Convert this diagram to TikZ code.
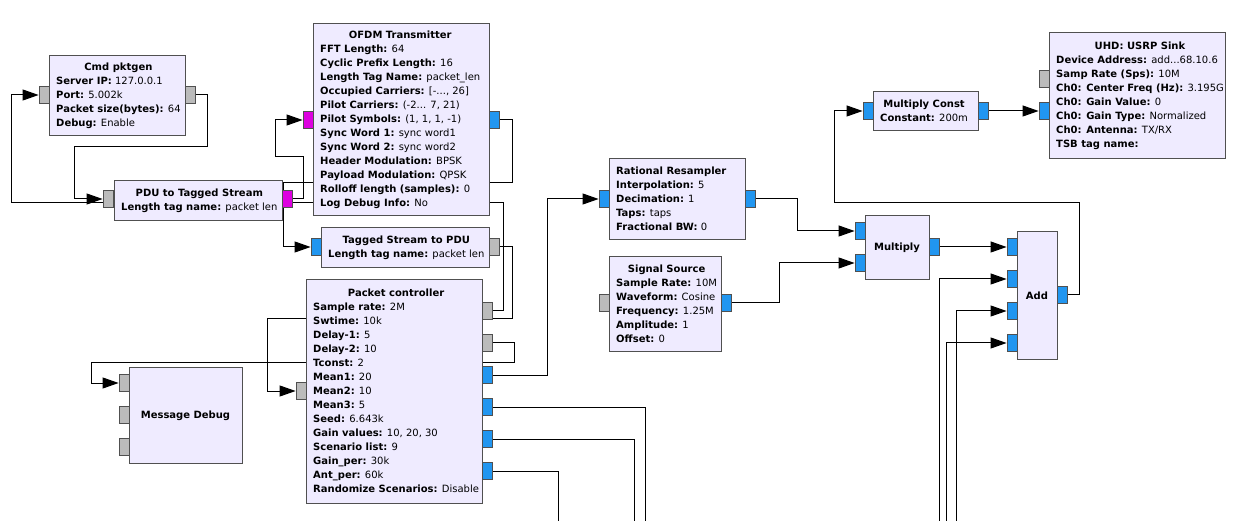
\documentclass[tikz,border=0pt]{standalone}
\usepackage{fontspec}
\setmainfont{DejaVu Sans}
\usetikzlibrary{arrows.meta}
\definecolor{blkfill}{HTML}{EFEBFF}
\definecolor{blkdraw}{HTML}{505050}
\definecolor{pgray}{HTML}{BBBBBB}
\definecolor{pblue}{HTML}{2196F0}
\definecolor{pmag}{HTML}{DD00E0}
\newcommand\bkt[1]{\multicolumn{1}{@{}c@{}}{\textbf{#1}}}
\newcommand\bkp[2]{\textbf{#1:} #2}
\pgfdeclarelayer{bg}
\pgfsetlayers{bg,main}
\begin{document}
\begin{tikzpicture}[x=1pt,y=-1pt,
  blk/.style={draw=blkdraw, fill=blkfill, line width=1pt, inner sep=0pt, anchor=north west},
  txt/.style={inner sep=0pt, font=\fontsize{10}{14}\selectfont, yshift=-1pt},
  port/.style={draw=blkdraw, line width=0.8pt, minimum width=10pt, minimum height=17pt, inner sep=0pt},
  gp/.style={port, fill=pgray}, bp/.style={port, fill=pblue}, mp/.style={port, fill=pmag},
  conn/.style={line width=1pt, black},
  arr/.style={conn, -{Triangle[length=16pt,width=11pt]}}]
\useasboundingbox (0,0) rectangle (1248,521);

% Cmd pktgen
\node[blk, minimum width=136pt, minimum height=80pt] (pk) at (49,55) {};
\node[txt, anchor=west] (pk-t) at (56,95) {\begin{tabular}{@{}l@{}}\bkt{Cmd pktgen}\\ \bkp{Server IP}{127.0.0.1}\\ \bkp{Port}{5.002k}\\ \bkp{Packet size(bytes)}{64}\\ \bkp{Debug}{Enable}\end{tabular}};
\node[gp] (pk-in) at (44,95) {};
\node[gp] (pk-out) at (190,95) {};

% PDU to Tagged Stream
\node[blk, minimum width=168pt, minimum height=40pt] (pdu) at (114,180) {};
\node[txt, anchor=west] (pdu-t) at (121,200) {\begin{tabular}{@{}l@{}}\bkt{PDU to Tagged Stream}\\ \bkp{Length tag name}{packet len}\end{tabular}};
\node[gp] (pdu-in) at (108,199) {};
\node[mp] (pdu-out) at (287,199) {};

% OFDM Transmitter
\node[blk, minimum width=176pt, minimum height=192pt] (ofdm) at (313,23) {};
\node[txt, anchor=west] (ofdm-t) at (320,119) {\begin{tabular}{@{}l@{}}\bkt{OFDM Transmitter}\\ \bkp{FFT Length}{64}\\ \bkp{Cyclic Prefix Length}{16}\\ \bkp{Length Tag Name}{packet\_len}\\ \bkp{Occupied Carriers}{[-..., 26]}\\ \bkp{Pilot Carriers}{(-2... 7, 21)}\\ \bkp{Pilot Symbols}{(1, 1, 1, -1)}\\ \bkp{Sync Word 1}{sync word1}\\ \bkp{Sync Word 2}{sync word2}\\ \bkp{Header Modulation}{BPSK}\\ \bkp{Payload Modulation}{QPSK}\\ \bkp{Rolloff length (samples)}{0}\\ \bkp{Log Debug Info}{No}\end{tabular}};
\node[mp] (ofdm-in) at (308,120) {};
\node[bp] (ofdm-out) at (494,120) {};

% Tagged Stream to PDU
\node[blk, minimum width=168pt, minimum height=40pt] (ts) at (321,227) {};
\node[txt, anchor=west] (ts-t) at (328,247) {\begin{tabular}{@{}l@{}}\bkt{Tagged Stream to PDU}\\ \bkp{Length tag name}{packet len}\end{tabular}};
\node[bp] (ts-in) at (316,247) {};
\node[gp] (ts-out) at (494,247) {};

% Packet controller
\node[blk, minimum width=176pt, minimum height=224pt] (pc) at (306,279) {};
\node[txt, anchor=west] (pc-t) at (313,391) {\begin{tabular}{@{}l@{}}\bkt{Packet controller}\\ \bkp{Sample rate}{2M}\\ \bkp{Swtime}{10k}\\ \bkp{Delay-1}{5}\\ \bkp{Delay-2}{10}\\ \bkp{Tconst}{2}\\ \bkp{Mean1}{20}\\ \bkp{Mean2}{10}\\ \bkp{Mean3}{5}\\ \bkp{Seed}{6.643k}\\ \bkp{Gain values}{10, 20, 30}\\ \bkp{Scenario list}{9}\\ \bkp{Gain\_per}{30k}\\ \bkp{Ant\_per}{60k}\\ \bkp{Randomize Scenarios}{Disable}\end{tabular}};
\node[gp] (pc-in) at (301,391) {};
\node[gp] (pc-o1) at (487,311) {};
\node[gp] (pc-o2) at (487,343) {};
\node[bp] (pc-o3) at (487,375) {};
\node[bp] (pc-o4) at (487,407) {};
\node[bp] (pc-o5) at (487,439) {};
\node[bp] (pc-o6) at (487,471) {};

% Message Debug
\node[blk, minimum width=113pt, minimum height=96pt] (md) at (129,367) {};
\node[txt] (md-t) at (185.5,415) {\textbf{Message Debug}};
\node[gp] (md-i1) at (124,383) {};
\node[gp] (md-i2) at (124,415) {};
\node[gp] (md-i3) at (124,447) {};

% Rational Resampler
\node[blk, minimum width=136pt, minimum height=81pt] (rr) at (609,158) {};
\node[txt, anchor=west] (rr-t) at (616,198.5) {\begin{tabular}{@{}l@{}}\bkt{Rational Resampler}\\ \bkp{Interpolation}{5}\\ \bkp{Decimation}{1}\\ \bkp{Taps}{taps}\\ \bkp{Fractional BW}{0}\end{tabular}};
\node[bp] (rr-in) at (604,199) {};
\node[bp] (rr-out) at (750,199) {};

% Signal Source
\node[blk, minimum width=112pt, minimum height=95pt] (sig) at (609,256) {};
\node[txt, anchor=west] (sig-t) at (616,303.5) {\begin{tabular}{@{}l@{}}\bkt{Signal Source}\\ \bkp{Sample Rate}{10M}\\ \bkp{Waveform}{Cosine}\\ \bkp{Frequency}{1.25M}\\ \bkp{Amplitude}{1}\\ \bkp{Offset}{0}\end{tabular}};
\node[gp] (sig-in) at (604,303) {};
\node[bp] (sig-out) at (726,303) {};

% Multiply Const
\node[blk, minimum width=105pt, minimum height=39pt] (mc) at (873,91) {};
\node[txt, anchor=west] (mc-t) at (880,110.5) {\begin{tabular}{@{}l@{}}\bkt{Multiply Const}\\ \bkp{Constant}{200m}\end{tabular}};
\node[bp] (mc-in) at (868,111) {};
\node[bp] (mc-out) at (983,111) {};

% UHD: USRP Sink
\node[blk, minimum width=176pt, minimum height=126pt] (us) at (1049,32) {};
\node[txt, anchor=west] (us-t) at (1056,95) {\begin{tabular}{@{}l@{}}\bkt{UHD: USRP Sink}\\ \bkp{Device Address}{add...68.10.6}\\ \bkp{Samp Rate (Sps)}{10M}\\ \bkp{Ch0: Center Freq (Hz)}{3.195G}\\ \bkp{Ch0: Gain Value}{0}\\ \bkp{Ch0: Gain Type}{Normalized}\\ \bkp{Ch0: Antenna}{TX/RX}\\ \textbf{TSB tag name:}\end{tabular}};
\node[gp] (us-in1) at (1044,79) {};
\node[bp] (us-in2) at (1044,111) {};

% Multiply
\node[blk, minimum width=64pt, minimum height=64pt] (mul) at (865,215) {};
\node[txt] (mul-t) at (897,247) {\textbf{Multiply}};
\node[bp] (mul-i1) at (860,231) {};
\node[bp] (mul-i2) at (860,263) {};
\node[bp] (mul-out) at (934,247) {};

% Add
\node[blk, minimum width=40pt, minimum height=128pt] (add) at (1017,231) {};
\node[txt] (add-t) at (1037,295) {\textbf{Add}};
\node[bp] (add-i1) at (1012,247) {};
\node[bp] (add-i2) at (1012,279) {};
\node[bp] (add-i3) at (1012,311) {};
\node[bp] (add-i4) at (1012,343) {};
\node[bp] (add-out) at (1062,295) {};

\coordinate (b1) at (645,521);
\coordinate (b2) at (634,521);
\coordinate (b3) at (558,521);
\coordinate (b4) at (939,521);
\coordinate (b5) at (946,521);
\coordinate (b6) at (956,521);

\begin{pgfonlayer}{bg}
\fill[white] (0,0) rectangle (1248,521);
\draw[arr] (pk-out.east) -- (207,95) -- (207,147) -- (74,147) |- (pdu-in.west);
\draw[arr] (pc-o1.east) -- (503,311) -- (503,203) -- (11,203) |- (pk-in.west);
\draw[arr] (pdu-out.east) -- (303,199) -- (303,157) -- (275,157) |- (ofdm-in.west);
\draw[arr] (ofdm-out.east) -- (512,120) -- (512,183) -- (283,183) |- (ts-in.west);
\draw[arr] (ts-out.east) -- (512,247) -- (512,319) -- (267,319) |- (pc-in.west);
\draw[arr] (pc-o2.east) -- (514,343) -- (514,363) -- (91,363) |- (md-i1.west);
\draw[arr] (pc-o3.east) -- (547,375) |- (rr-in.west);
\draw[conn] (pc-o4.east) -| (b1);
\draw[conn] (pc-o5.east) -| (b2);
\draw[conn] (pc-o6.east) -| (b3);
\draw[arr] (b4) |- (add-i2.west);
\draw[arr] (b5) |- (add-i4.west);
\draw[arr] (b6) |- (add-i3.west);
\draw[arr] (rr-out.east) -- (797,199) |- (mul-i1.west);
\draw[arr] (sig-out.east) -- (779,303) |- (mul-i2.west);
\draw[arr] (mul-out.east) -- (add-i1.west);
\draw[arr] (add-out.east) -- (1079,295) -- (1079,203) -- (834,203) |- (mc-in.west);
\draw[arr] (mc-out.east) -- (us-in2.west);
\end{pgfonlayer}
\end{tikzpicture}
\end{document}
